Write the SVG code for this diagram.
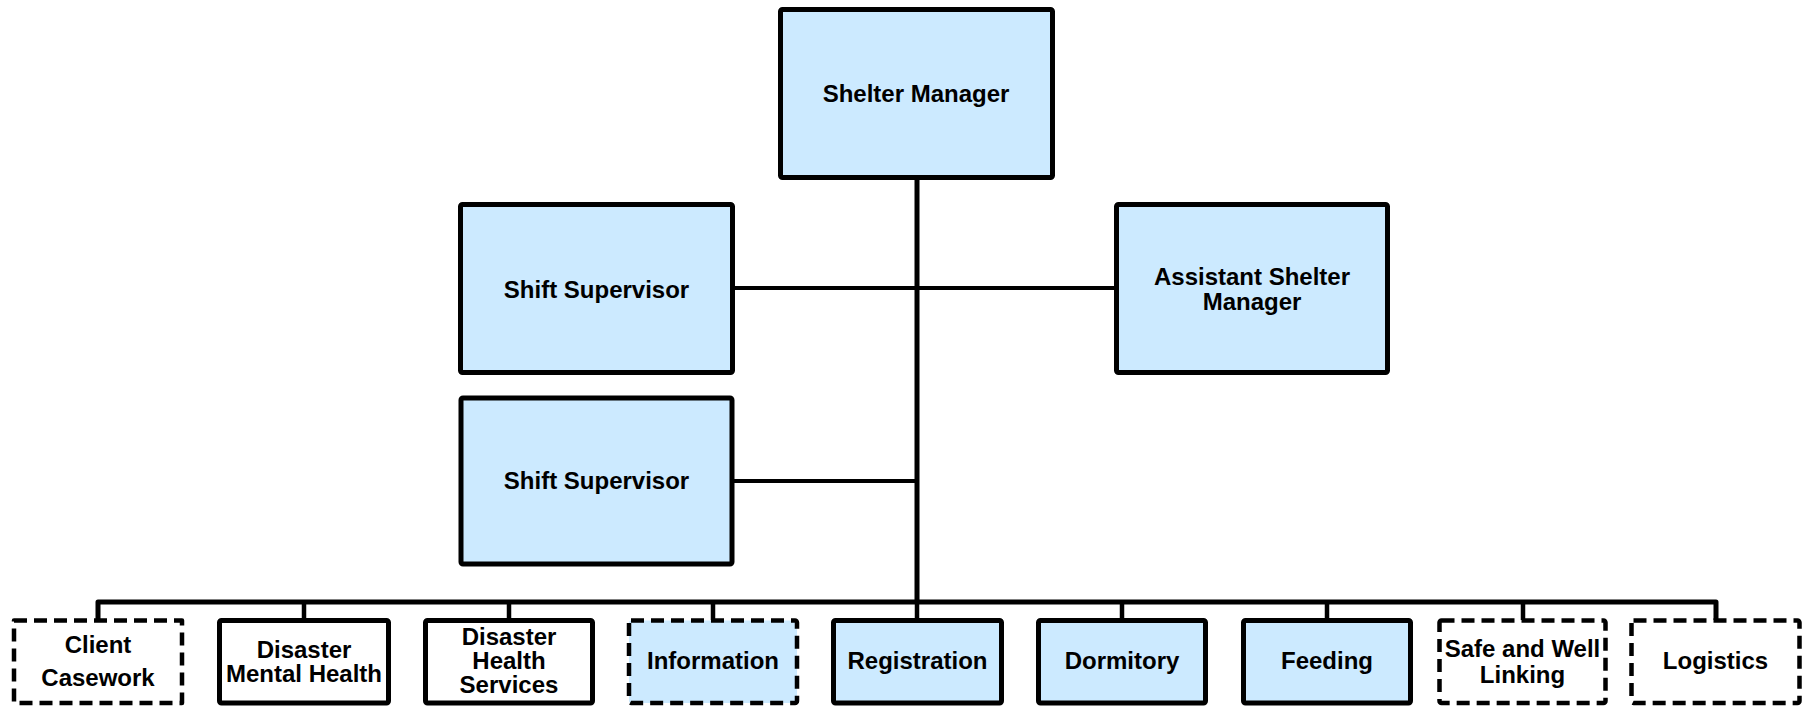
<svg xmlns="http://www.w3.org/2000/svg" width="1808" height="706" viewBox="0 0 1808 706">
<style>
.box{stroke:#000;stroke-width:5;stroke-linejoin:round}
.blue{fill:#cceaff}
.white{fill:#fff}
.dash{stroke-dasharray:13 7;stroke-width:4.5}
.conn{fill:none;stroke:#000;stroke-linejoin:round}
text{font-family:"Liberation Sans",Arial,sans-serif;font-weight:bold;font-size:24px;fill:#000;text-anchor:middle}
</style>
<rect width="1808" height="706" fill="#fff"/>
<g id="connectors">
<line class="conn" x1="917" y1="178" x2="917" y2="602" stroke-width="5"/>
<line class="conn" x1="733" y1="288" x2="1116" y2="288" stroke-width="4"/>
<line class="conn" x1="733" y1="481" x2="917" y2="481" stroke-width="4"/>
<path class="conn" d="M98,620 V602 H1716 V620" stroke-width="5"/>
<line class="conn" x1="304" y1="602" x2="304" y2="620" stroke-width="4.5"/>
<line class="conn" x1="509" y1="602" x2="509" y2="620" stroke-width="4.5"/>
<line class="conn" x1="713" y1="602" x2="713" y2="620" stroke-width="4.5"/>
<line class="conn" x1="917" y1="602" x2="917" y2="620" stroke-width="4.5"/>
<line class="conn" x1="1122" y1="602" x2="1122" y2="620" stroke-width="4.5"/>
<line class="conn" x1="1327" y1="602" x2="1327" y2="620" stroke-width="4.5"/>
<line class="conn" x1="1523" y1="602" x2="1523" y2="620" stroke-width="4.5"/>
</g>
<g id="shelter-manager">
<rect class="box blue" x="780.5" y="9.5" width="272" height="168" rx="2"/>
<text x="916" y="102">Shelter Manager</text>
</g>
<g id="shift-supervisor-1">
<rect class="box blue" x="460.5" y="204.5" width="272" height="168" rx="2"/>
<text x="596.5" y="298">Shift Supervisor</text>
</g>
<g id="assistant-shelter-manager">
<rect class="box blue" x="1116.5" y="204.5" width="271" height="168" rx="2"/>
<text x="1252" y="285">Assistant Shelter</text>
<text x="1252" y="310">Manager</text>
</g>
<g id="shift-supervisor-2">
<rect class="box blue" x="461" y="398" width="271" height="166" rx="2" stroke-width="4"/>
<text x="596.5" y="489">Shift Supervisor</text>
</g>
<g id="client-casework">
<rect class="box white dash" x="14" y="620.5" width="168" height="82.5"/>
<text x="98" y="653">Client</text>
<text x="98" y="686">Casework</text>
</g>
<g id="disaster-mental-health">
<rect class="box white" x="219.5" y="620.5" width="169" height="82.5" rx="2"/>
<text x="304" y="658">Disaster</text>
<text x="304" y="682">Mental Health</text>
</g>
<g id="disaster-health-services">
<rect class="box white" x="425.5" y="620.5" width="167" height="82.5" rx="2"/>
<text x="509" y="645">Disaster</text>
<text x="509" y="669">Health</text>
<text x="509" y="693">Services</text>
</g>
<g id="information">
<rect class="box blue dash" x="629" y="620.5" width="168" height="82.5" rx="2"/>
<text x="713" y="669">Information</text>
</g>
<g id="registration">
<rect class="box blue" x="833.5" y="620.5" width="168" height="82.5" rx="2"/>
<text x="917.5" y="669">Registration</text>
</g>
<g id="dormitory">
<rect class="box blue" x="1038.5" y="620.5" width="167" height="82.5" rx="2"/>
<text x="1122" y="669">Dormitory</text>
</g>
<g id="feeding">
<rect class="box blue" x="1243.5" y="620.5" width="167" height="82.5" rx="2"/>
<text x="1327" y="669">Feeding</text>
</g>
<g id="safe-and-well-linking">
<rect class="box white dash" x="1439.5" y="620.5" width="166" height="82.5" rx="2"/>
<text x="1522.5" y="657">Safe and Well</text>
<text x="1522.5" y="683">Linking</text>
</g>
<g id="logistics">
<rect class="box white dash" x="1631.5" y="620.5" width="168" height="82.5" rx="2"/>
<text x="1715.5" y="669">Logistics</text>
</g>
</svg>
